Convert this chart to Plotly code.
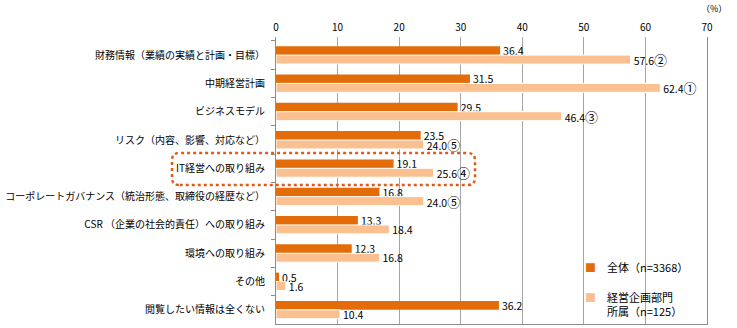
import plotly.graph_objects as go

categories = [
    "財務情報（業績の実績と計画・目標）",
    "中期経営計画",
    "ビジネスモデル",
    "リスク（内容、影響、対応など）",
    "IT経営への取り組み",
    "コーポレートガバナンス（統治形態、取締役の経歴など）",
    "CSR （企業の社会的責任）への取り組み",
    "環境への取り組み",
    "その他",
    "閲覧したい情報は全くない",
]
all_values = [36.4, 31.5, 29.5, 23.5, 19.1, 16.8, 13.3, 12.3, 0.5, 36.2]
plan_values = [57.6, 62.4, 46.4, 24.0, 25.6, 24.0, 18.4, 16.8, 1.6, 10.4]
plan_ranks = ["②", "①", "③", "⑤", "④", "⑤", "", "", "", ""]
series_names = ["全体（n=3368）", "経営企画部門<br>所属（n=125）"]
x_ticks = [0, 10, 20, 30, 40, 50, 60, 70]

FONT = "Noto Sans CJK JP"
DARK = "#E36C09"
LIGHT = "#FAC090"


def rank_text(v, r):
    s = f"{v:.1f}"
    if r:
        s += f"<span style='font-size:13px'>{r}</span>"
    return s


fig = go.Figure()
fig.add_trace(go.Bar(
    y=categories, x=all_values, orientation="h", name=series_names[0],
    marker=dict(color=DARK, line=dict(width=0)),
    text=[f"{v:.1f}" for v in all_values], textposition="outside",
    textfont=dict(size=10.5, color="#000", family=FONT),
    constraintext="none", cliponaxis=False, showlegend=False,
))
fig.add_trace(go.Bar(
    y=categories, x=plan_values, orientation="h", name=series_names[1],
    marker=dict(color=LIGHT, line=dict(width=1, color="white")),
    text=[rank_text(v, r) for v, r in zip(plan_values, plan_ranks)], textposition="outside",
    textfont=dict(size=10.5, color="#000", family=FONT),
    constraintext="none", cliponaxis=False, showlegend=False,
))

# invisible trace to create a bottom axis line
fig.add_trace(go.Scatter(x=[0], y=[categories[0]], xaxis="x2", mode="markers",
                         marker=dict(opacity=0), showlegend=False, hoverinfo="skip"))

# dotted highlight around IT row (paper coordinates)
x0, x1, y0, y1 = -0.2413, 0.4617, 0.484, 0.596
rx, ry = 0.018, 0.025
path = (f"M {x0+rx},{y0} L {x1-rx},{y0} Q {x1},{y0} {x1},{y0+ry} "
        f"L {x1},{y1-ry} Q {x1},{y1} {x1-rx},{y1} L {x0+rx},{y1} "
        f"Q {x0},{y1} {x0},{y1-ry} L {x0},{y0+ry} Q {x0},{y0} {x0+rx},{y0} Z")
fig.add_shape(type="path", path=path, xref="paper", yref="paper",
              line=dict(color="#E05A1A", width=2.5, dash="dot"), layer="above")

# legend background box
fig.add_shape(type="rect", xref="paper", yref="paper", x0=0.715, x1=0.985, y0=0.021, y1=0.251,
              fillcolor="white", line=dict(width=0), layer="between")

annotations = []
# legend markers
for color, yv in [(DARK, 0.1986), (LIGHT, 0.0941)]:
    annotations.append(dict(text="■", x=0.7297, y=yv, xref="paper", yref="paper",
                            xanchor="center", yanchor="middle", showarrow=False,
                            font=dict(size=11, family=FONT, color=color)))
# legend texts
for txt, yv in [(series_names[0], 0.1986), (series_names[1], 0.0697)]:
    annotations.append(dict(text=txt, x=0.7633, y=yv, xref="paper", yref="paper",
                            xanchor="left", yanchor="middle", align="left", showarrow=False,
                            font=dict(size=11, family=FONT, color="#000")))
annotations.append(dict(text="（%）", x=1.0, y=1.0, xref="paper", yref="paper",
                        xshift=7, yshift=29, xanchor="center", yanchor="middle", showarrow=False,
                        font=dict(size=9, family=FONT, color="#000")))

fig.update_layout(
    width=737, height=328,
    margin=dict(l=276, r=30, t=37, b=4),
    paper_bgcolor="white", plot_bgcolor="white",
    barmode="group", bargap=0.37, bargroupgap=0,
    font=dict(family=FONT, size=10, color="#000"),
    xaxis=dict(side="top", range=[0, 70], tickvals=x_ticks, showgrid=True,
               gridcolor="#A6A6A6", gridwidth=1, zeroline=False, showline=False,
               ticks="", tickfont=dict(size=10, family=FONT), ticklabelstandoff=3),
    xaxis2=dict(overlaying="x", side="bottom", range=[0, 70], showline=True,
                linecolor="#8C8C8C", linewidth=1, showticklabels=False, ticks="",
                showgrid=False, zeroline=False),
    yaxis=dict(autorange="reversed", showline=True, linecolor="#8C8C8C", linewidth=1,
               mirror=True, ticks="outside", tickson="boundaries", ticklen=4,
               tickcolor="#8C8C8C", showgrid=False, tickfont=dict(size=10, family=FONT),
               ticklabelstandoff=8),
    annotations=annotations,
    showlegend=False,
)

fig.write_html("out.html")
